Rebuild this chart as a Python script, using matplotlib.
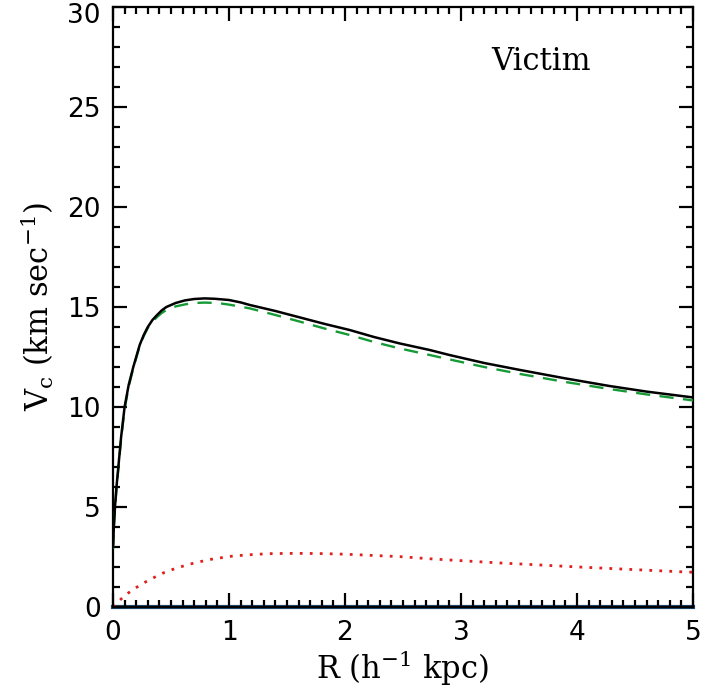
import matplotlib
matplotlib.use("Agg")
import matplotlib.pyplot as plt
import matplotlib.transforms as mtransforms
from matplotlib.ticker import MultipleLocator

plt.rcParams['mathtext.fontset'] = 'custom'
plt.rcParams['mathtext.rm'] = 'DejaVu Serif'
plt.rcParams['mathtext.it'] = 'DejaVu Serif'
plt.rcParams['mathtext.default'] = 'rm'

# Total circular velocity (solid black)
r_total = [0.0, 0.003, 0.008, 0.017, 0.03, 0.046, 0.07, 0.10, 0.135, 0.175, 0.20, 0.23, 0.265, 0.30, 0.34, 0.38, 0.42, 0.46,
           0.54, 0.62, 0.70, 0.79, 0.88, 1.0, 1.1, 1.18, 1.40, 1.61, 1.82, 2.04, 2.25, 2.47, 2.73, 2.9, 3.2, 3.51, 3.9,
           4.28, 4.6, 4.97, 5.0]
v_total = [3.0, 3.35, 4.1, 5.0, 6.0, 7.0, 8.5, 10.0, 11.1, 12.0, 12.5, 13.1, 13.6, 14.0, 14.35, 14.6, 14.83, 15.0,
           15.2, 15.33, 15.4, 15.43, 15.41, 15.35, 15.23, 15.1, 14.8, 14.48, 14.16, 13.85, 13.5, 13.18, 12.85, 12.6, 12.2, 11.85, 11.43,
           11.05, 10.77, 10.5, 10.48]

# Dark matter (green dashed)
r_dm = [0.0, 0.003, 0.008, 0.017, 0.03, 0.046, 0.07, 0.10, 0.135, 0.175, 0.20, 0.23, 0.265, 0.30, 0.34, 0.38, 0.42, 0.46,
        0.54, 0.62, 0.70, 0.79, 0.9, 1.0, 1.18, 1.40, 1.61, 1.82, 2.04, 2.25, 2.47, 2.73, 2.9, 3.2, 3.51, 3.9,
        4.28, 4.6, 4.97, 5.0]
v_dm = [2.9, 3.2, 4.0, 4.9, 5.9, 6.9, 8.4, 9.9, 11.0, 11.95, 12.45, 13.05, 13.55, 13.95, 14.27, 14.5, 14.7, 14.85,
        15.03, 15.13, 15.2, 15.22, 15.2, 15.12, 14.93, 14.6, 14.27, 13.93, 13.6, 13.25, 12.93, 12.6, 12.38, 12.0, 11.65, 11.25,
        10.9, 10.63, 10.35, 10.33]

# Stars (red dotted)
r_star = [0.0, 0.017, 0.07, 0.127, 0.18, 0.25, 0.31, 0.38, 0.44, 0.51, 0.58, 0.65, 0.72, 0.79, 0.86, 0.94, 1.01, 1.08,
          1.22, 1.37, 1.51, 1.66, 1.80, 1.94, 2.09, 2.23, 2.47, 2.76, 3.05, 3.34, 3.62, 3.91, 4.2, 4.49, 4.94, 5.0]
v_star = [0.0, 0.1, 0.4, 0.68, 0.9, 1.15, 1.35, 1.55, 1.72, 1.87, 2.0, 2.13, 2.22, 2.32, 2.4, 2.47, 2.53, 2.57,
          2.63, 2.67, 2.68, 2.68, 2.67, 2.65, 2.62, 2.58, 2.52, 2.4, 2.3, 2.2, 2.12, 2.03, 1.95, 1.87, 1.75, 1.74]

# Gas (blue, zero)
r_gas = [0.0, 5.0]
v_gas = [0.0, 0.0]

fig = plt.figure(figsize=(7.02, 7.00), dpi=100)
ax = fig.add_axes([113/702, 1-607/700, 580/702, 600/700])

ax.plot(r_gas, v_gas, color='#1f4e79', lw=3.0, clip_on=False, zorder=1)
ax.plot(r_star, v_star, color='#e0201c', lw=2.0, linestyle=(0, (1, 2.6)), zorder=2)
ax.plot(r_dm, v_dm, color='#159a35', lw=1.7, linestyle=(0, (6, 4)), zorder=3)
ax.plot(r_total, v_total, color='black', lw=1.8, zorder=4)

ax.set_xlim(0, 5)
ax.set_ylim(0, 30)
ax.xaxis.set_major_locator(MultipleLocator(1))
ax.xaxis.set_minor_locator(MultipleLocator(0.1))
ax.yaxis.set_major_locator(MultipleLocator(5))
ax.yaxis.set_minor_locator(MultipleLocator(1))
ax.tick_params(which='both', direction='in', top=True, right=True, width=1.6, labelsize=19)
ax.tick_params(which='major', length=10, pad=9)
ax.tick_params(which='minor', length=5)
for s in ax.spines.values():
    s.set_linewidth(1.6)

fig.canvas.draw()
# nudge the top y label down so it stays inside the figure, as in the reference
for lab in ax.get_yticklabels():
    if lab.get_text() == '30':
        lab.set_transform(lab.get_transform() + mtransforms.ScaledTranslation(0, -6/100, fig.dpi_scale_trans))

lab_font = dict(family='DejaVu Serif', fontsize=22)
ax.set_xlabel('R (h$^{-1}$ kpc)', labelpad=2, **lab_font)
ax.set_ylabel('V$_c$ (km sec$^{-1}$)', labelpad=8, **lab_font)
ax.text(0.738, 0.91, 'Victim', transform=ax.transAxes, ha='center', va='center',
        family='DejaVu Serif', fontsize=22)

fig.savefig('out.png', dpi=100)
